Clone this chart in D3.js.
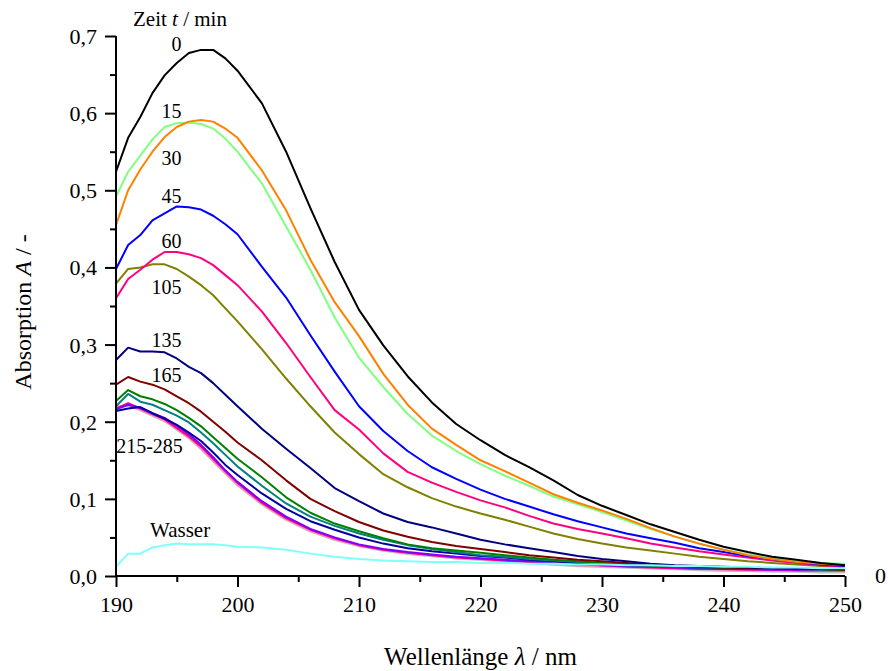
<!DOCTYPE html>
<html>
<head>
<meta charset="utf-8">
<script src="https://cdn.jsdelivr.net/npm/d3@7"></script>
<style>
  body { margin: 0; background: #fff; }
  text { font-family: "Liberation Serif", "Times New Roman", serif; fill: #000; }
</style>
</head>
<body>
<div id="chart"></div>
<script>
// wavelength grid (nm)
var wavelengths = [190,191,192,193,194,195,196,197,198,199,200,
  202,204,206,208,210,212,214,216,218,220,222,224,226,228,230,
  232,234,236,238,240,242,244,246,248,250];

// absorbance spectra, one array per sampling time
var t0   = [0.524,0.568,0.595,0.626,0.649,0.665,0.678,0.682,0.682,0.671,0.655,
  0.613,0.550,0.477,0.407,0.345,0.299,0.259,0.225,0.197,0.176,0.157,0.141,0.124,0.105,0.091,
  0.079,0.067,0.057,0.047,0.038,0.031,0.025,0.021,0.017,0.014];
var t15  = [0.455,0.500,0.527,0.550,0.569,0.582,0.589,0.591,0.589,0.580,0.568,
  0.526,0.474,0.410,0.355,0.311,0.262,0.222,0.191,0.170,0.150,0.136,0.121,0.106,0.095,0.085,
  0.074,0.062,0.051,0.042,0.034,0.027,0.022,0.018,0.016,0.014];
var t30  = [0.492,0.524,0.545,0.566,0.582,0.587,0.588,0.586,0.580,0.567,0.550,
  0.509,0.453,0.397,0.335,0.283,0.245,0.210,0.182,0.162,0.145,0.130,0.117,0.103,0.093,0.083,
  0.072,0.061,0.051,0.042,0.034,0.028,0.023,0.019,0.017,0.016];
var t45  = [0.398,0.429,0.442,0.461,0.470,0.479,0.478,0.475,0.467,0.456,0.443,
  0.401,0.361,0.312,0.265,0.220,0.188,0.162,0.141,0.126,0.112,0.100,0.090,0.080,0.071,0.063,
  0.055,0.049,0.043,0.036,0.031,0.026,0.022,0.018,0.015,0.013];
var t60  = [0.360,0.385,0.397,0.410,0.420,0.420,0.417,0.412,0.403,0.390,0.377,
  0.343,0.302,0.258,0.215,0.190,0.159,0.135,0.121,0.109,0.098,0.089,0.078,0.068,0.061,0.055,
  0.049,0.042,0.037,0.032,0.028,0.024,0.020,0.017,0.014,0.012];
var t105 = [0.379,0.398,0.400,0.404,0.404,0.398,0.388,0.377,0.364,0.347,0.330,
  0.294,0.256,0.220,0.186,0.158,0.132,0.115,0.101,0.090,0.081,0.073,0.064,0.055,0.048,0.042,
  0.037,0.033,0.029,0.025,0.022,0.019,0.017,0.015,0.013,0.012];
var t135 = [0.280,0.296,0.291,0.291,0.290,0.282,0.271,0.263,0.250,0.235,0.220,
  0.191,0.165,0.140,0.114,0.097,0.081,0.070,0.063,0.055,0.047,0.041,0.036,0.031,0.026,0.022,
  0.019,0.016,0.014,0.013,0.012,0.011,0.010,0.010,0.009,0.009];
var t165 = [0.248,0.258,0.252,0.248,0.242,0.233,0.224,0.213,0.200,0.187,0.173,
  0.150,0.124,0.100,0.084,0.070,0.059,0.051,0.044,0.039,0.035,0.031,0.027,0.024,0.021,0.019,
  0.017,0.015,0.013,0.012,0.011,0.010,0.010,0.009,0.009,0.008];
var t195 = [0.227,0.241,0.233,0.229,0.223,0.215,0.205,0.194,0.180,0.166,0.152,
  0.128,0.102,0.082,0.068,0.058,0.049,0.041,0.036,0.033,0.030,0.027,0.024,0.021,0.019,0.017,
  0.015,0.014,0.013,0.012,0.011,0.010,0.010,0.009,0.009,0.008];
var t215 = [0.220,0.236,0.226,0.222,0.215,0.208,0.199,0.186,0.172,0.157,0.142,
  0.117,0.094,0.077,0.065,0.055,0.047,0.040,0.035,0.031,0.027,0.025,0.022,0.020,0.018,0.016,
  0.015,0.013,0.012,0.011,0.011,0.010,0.009,0.009,0.008,0.008];
var t225 = [0.214,0.217,0.219,0.211,0.204,0.196,0.186,0.175,0.160,0.144,0.131,
  0.107,0.087,0.071,0.060,0.050,0.042,0.036,0.032,0.029,0.026,0.024,0.021,0.019,0.017,0.015,
  0.014,0.013,0.012,0.011,0.010,0.010,0.009,0.009,0.009,0.008];
var t245 = [0.216,0.222,0.218,0.211,0.205,0.195,0.184,0.170,0.154,0.137,0.122,
  0.097,0.077,0.061,0.050,0.041,0.035,0.031,0.028,0.025,0.023,0.021,0.019,0.017,0.016,0.014,
  0.013,0.012,0.011,0.010,0.009,0.009,0.008,0.008,0.008,0.008];
var t255 = [0.217,0.224,0.217,0.210,0.203,0.192,0.181,0.168,0.152,0.136,0.121,
  0.095,0.075,0.060,0.049,0.040,0.034,0.030,0.027,0.024,0.022,0.020,0.018,0.017,0.015,0.014,
  0.012,0.011,0.010,0.009,0.009,0.008,0.008,0.007,0.007,0.007];
var t270 = [0.218,0.222,0.216,0.209,0.202,0.191,0.180,0.166,0.150,0.134,0.119,
  0.094,0.074,0.059,0.048,0.040,0.034,0.030,0.027,0.024,0.022,0.020,0.018,0.016,0.014,0.013,
  0.012,0.011,0.010,0.009,0.008,0.008,0.007,0.007,0.007,0.006];
var t285 = [0.219,0.221,0.215,0.208,0.201,0.190,0.179,0.165,0.149,0.133,0.118,
  0.093,0.073,0.058,0.047,0.039,0.033,0.029,0.026,0.023,0.021,0.019,0.017,0.015,0.013,0.012,
  0.011,0.010,0.009,0.008,0.007,0.007,0.006,0.006,0.005,0.005];
var water = [0.012,0.029,0.029,0.037,0.040,0.042,0.041,0.041,0.041,0.040,0.038,
  0.037,0.034,0.029,0.025,0.022,0.020,0.019,0.018,0.018,0.017,0.017,0.016,0.016,0.015,0.015,
  0.014,0.014,0.013,0.013,0.012,0.012,0.011,0.011,0.010,0.010];

var seriesList = [
  { name: '285', values: t285, color: '#c0c0c0' },
  { name: '270', values: t270, color: '#ff80c0' },
  { name: '255', values: t255, color: '#ff0080' },
  { name: '245', values: t245, color: '#8000ff' },
  { name: '225', values: t225, color: '#0000a0' },
  { name: '215', values: t215, color: '#008080' },
  { name: '195', values: t195, color: '#008000' },
  { name: '165', values: t165, color: '#800000' },
  { name: '135', values: t135, color: '#000080' },
  { name: '105', values: t105, color: '#808000' },
  { name: '60',  values: t60,  color: '#ff0080' },
  { name: '45',  values: t45,  color: '#0000ff' },
  { name: '30',  values: t30,  color: '#80ff80' },
  { name: '15',  values: t15,  color: '#ff8000' },
  { name: '0',   values: t0,   color: '#000000' },
  { name: 'Wasser', values: water, color: '#80ffff' }
];

var yTicks = [0, 0.1, 0.2, 0.3, 0.4, 0.5, 0.6, 0.7];
var xTicks = [190, 200, 210, 220, 230, 240, 250];

// curve labels in data coordinates (wavelength, absorbance)
var curveLabels = [
  { text: '0',       x: 195.4, y: 0.681 },
  { text: '15',      x: 195.4, y: 0.594 },
  { text: '30',      x: 195.4, y: 0.533 },
  { text: '45',      x: 195.4, y: 0.4835 },
  { text: '60',      x: 195.4, y: 0.425 },
  { text: '105',     x: 195.4, y: 0.366 },
  { text: '135',     x: 195.4, y: 0.297 },
  { text: '165',     x: 195.4, y: 0.2515 },
  { text: '215-285', x: 195.5, y: 0.1594 }
];

var width = 888, height = 671;
var margin = { left: 116, right: 43, top: 36, bottom: 95 };

var svg = d3.select('#chart').append('svg')
  .attr('width', width)
  .attr('height', height);

var x = d3.scaleLinear().domain([190, 250]).range([margin.left, width - margin.right]);
var y = d3.scaleLinear().domain([0, 0.7]).range([height - margin.bottom, margin.top]);

var comma = function (d) { return d3.format('.1f')(d).replace('.', ','); };

// curves
var line = d3.line()
  .x(function (d) { return x(d[0]); })
  .y(function (d) { return y(d[1]); });

svg.append('g').selectAll('path')
  .data(seriesList)
  .enter().append('path')
  .attr('fill', 'none')
  .attr('stroke', function (d) { return d.color; })
  .attr('stroke-width', function (d) { return d.name === '285' ? 2.6 : 2; })
  .attr('stroke-linejoin', 'round')
  .attr('d', function (d) {
    return line(wavelengths.map(function (w, i) { return [w, d.values[i]]; }));
  });

// y axis, major ticks every 0.1 with minor ticks in between
var yAxis = svg.append('g').attr('transform', 'translate(' + margin.left + ',0)');
yAxis.call(d3.axisLeft(y).tickValues(d3.range(0, 0.71, 0.05)).tickSize(6).tickFormat(''));
yAxis.call(function (g) {
  var major = g.selectAll('.tick').filter(function (d, i) { return i % 2 === 0; });
  major.select('line').attr('x2', -11);
  major.select('text').text(function (d) { return comma(d); });
});
yAxis.select('.domain').attr('d', 'M0,' + y(0) + 'V' + y(0.7));
yAxis.selectAll('.tick text')
  .attr('x', -19)
  .attr('dy', '0.34em')
  .style('font-family', '"Liberation Serif", serif')
  .style('font-size', '22px')
  .attr('fill', '#000');

// x axis
var xAxis = svg.append('g').attr('transform', 'translate(0,' + y(0) + ')');
xAxis.call(d3.axisBottom(x).tickValues(d3.range(190, 251, 5)).tickSize(6).tickFormat(''));
xAxis.call(function (g) {
  var major = g.selectAll('.tick').filter(function (d, i) { return i % 2 === 0; });
  major.select('line').attr('y2', 11);
  major.select('text').text(function (d) { return d; });
});
xAxis.select('.domain').attr('d', 'M' + x(190) + ',0H' + x(250));
xAxis.selectAll('.tick text')
  .attr('y', 20)
  .attr('dy', '0.71em')
  .style('font-family', '"Liberation Serif", serif')
  .style('font-size', '22px')
  .attr('fill', '#000');

svg.selectAll('.domain, .tick line')
  .attr('stroke', '#000')
  .attr('stroke-width', 2);

// clipped right-hand label
svg.append('text')
  .attr('x', x(250) + 30)
  .attr('y', y(0) + 7)
  .style('font-size', '22px')
  .text('0');

// curve labels
svg.append('g').selectAll('text')
  .data(curveLabels)
  .enter().append('text')
  .attr('x', function (d) { return x(d.x); })
  .attr('y', function (d) { return y(d.y); })
  .attr('text-anchor', 'end')
  .style('font-size', '20px')
  .text(function (d) { return d.text; });

svg.append('text')
  .attr('x', x(192.8))
  .attr('y', y(0.0506))
  .style('font-size', '21px')
  .text('Wasser');

var zeit = svg.append('text')
  .attr('x', x(191.4))
  .attr('y', 26)
  .style('font-size', '21px');
zeit.append('tspan').text('Zeit ');
zeit.append('tspan').style('font-style', 'italic').text('t');
zeit.append('tspan').text(' / min');

// axis titles
var xt = svg.append('text')
  .attr('x', (x(190) + x(250)) / 2)
  .attr('y', 665)
  .attr('text-anchor', 'middle')
  .style('font-size', '25px');
xt.append('tspan').text('Wellenlänge ');
xt.append('tspan').style('font-style', 'italic').text('λ');
xt.append('tspan').text(' / nm');

var yt = svg.append('text')
  .attr('transform', 'translate(31,312) rotate(-90)')
  .attr('text-anchor', 'middle')
  .style('font-size', '24px');
yt.append('tspan').text('Absorption ');
yt.append('tspan').style('font-style', 'italic').text('A');
yt.append('tspan').text(' / -');
</script>
</body>
</html>
